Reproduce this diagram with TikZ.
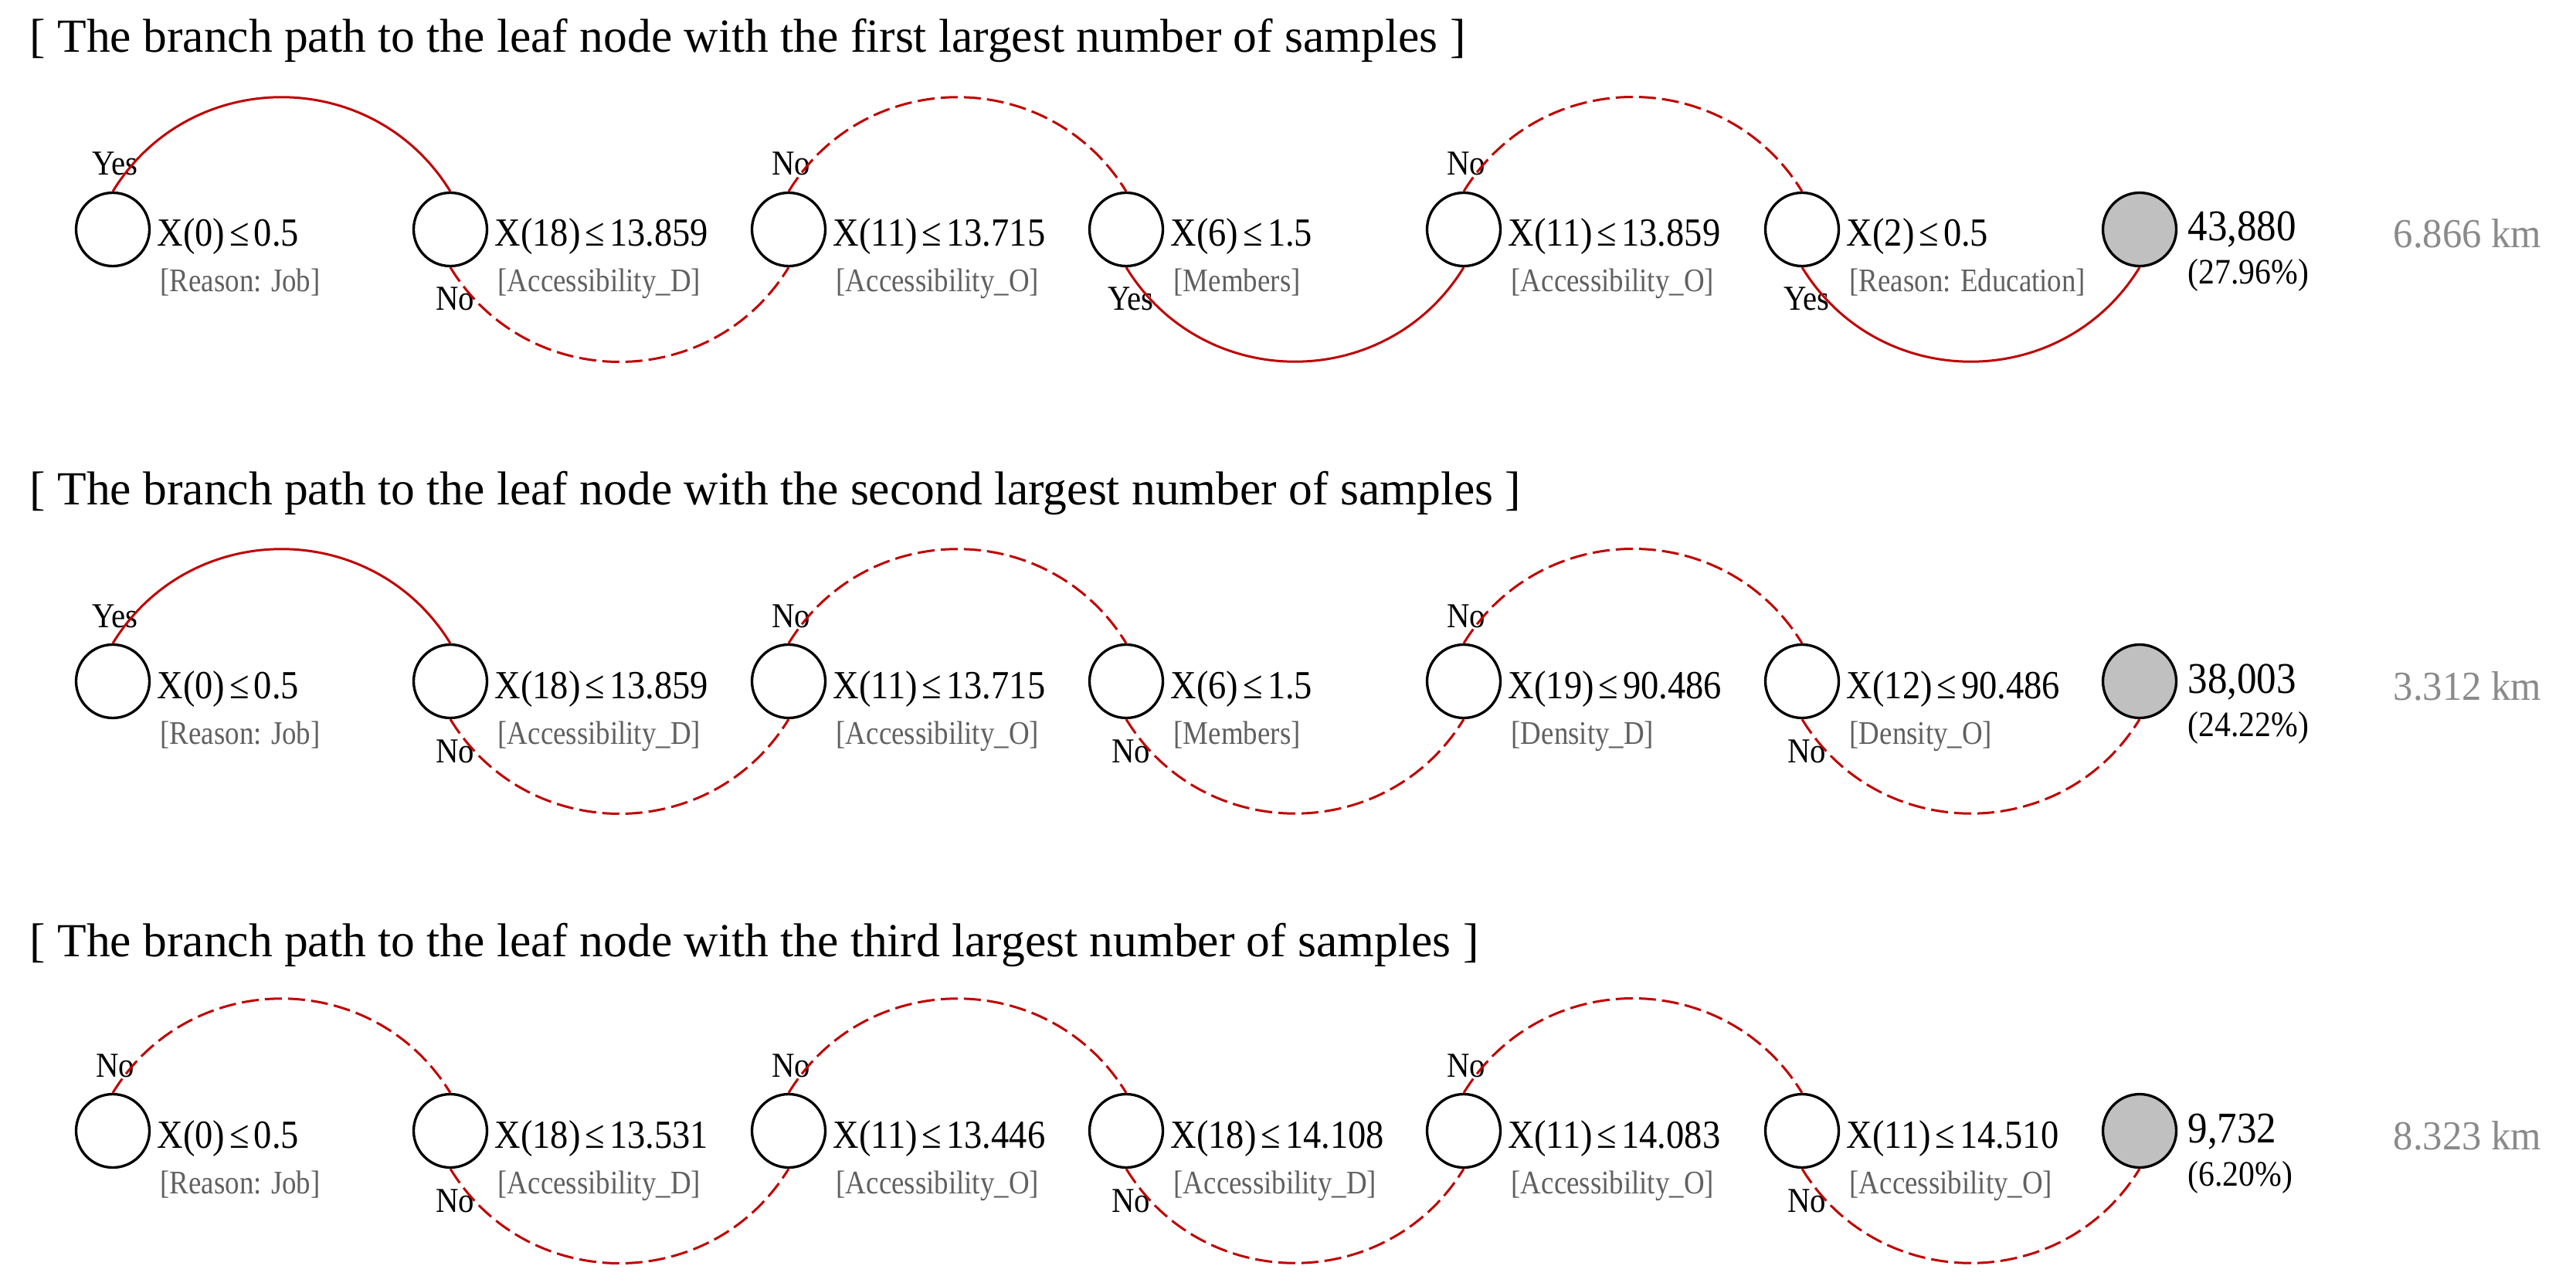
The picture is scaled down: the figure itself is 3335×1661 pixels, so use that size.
\documentclass[tikz,border=0pt]{standalone}
\usepackage{fontspec}
\setmainfont{Liberation Serif}
\newfontfamily\cond[FakeStretch=0.9]{Liberation Serif}
\newfontfamily\condg[FakeStretch=0.865]{Liberation Serif}
\newfontfamily\condk[FakeStretch=0.95]{Liberation Serif}
\definecolor{arcred}{RGB}{192,0,0}
\definecolor{labgray}{RGB}{96,96,96}
\definecolor{kmgray}{RGB}{138,138,138}
\definecolor{leafgray}{RGB}{192,192,192}
\newcommand\myle{\kern1.8pt≤\kern1.8pt}
\tikzset{
  dec/.style={circle,draw=black,line width=1pt,minimum size=28.5pt,inner sep=0pt},
  leaf/.style={dec,fill=leafgray},
  mainlab/.style={anchor=base west,inner sep=0pt,font=\cond\fontsize{15.5}{17}\selectfont},
  graylab/.style={anchor=base west,inner sep=0pt,text=labgray,font=\condg\fontsize{12.8}{14}\selectfont},
  cntlab/.style={anchor=base west,inner sep=0pt,font=\cond\fontsize{17}{19}\selectfont},
  pctlab/.style={anchor=base west,inner sep=0pt,font=\cond\fontsize{13.9}{15}\selectfont},
  kmlab/.style={anchor=base west,inner sep=0pt,text=kmgray,font=\condk\fontsize{16}{18}\selectfont},
  yn/.style={anchor=base,inner sep=0pt,font=\cond\fontsize{13.6}{15}\selectfont},
  title/.style={anchor=base west,inner sep=0pt,font=\fontsize{18.45}{20}\selectfont},
  yesarc/.style={draw=arcred,line width=0.9pt},
  noarc/.style={draw=arcred,line width=0.9pt,dash pattern=on 6.6pt off 2.4pt},
  arcup/.style={out=58.5,in=121.5,looseness=1.12},
  arcdown/.style={out=-58.5,in=-121.5,looseness=1.12},
}
\newcommand\dnode[5]{%
  \node[dec] (#1) at (#2,-#3) {};
  \node[mainlab] (#1m) at ([shift={(57,-22)}]#1.center) {#4};
  \node[graylab] (#1g) at ([shift={(61,-81)}]#1.center) {#5};
}
\newcommand\lnode[6]{%
  \node[leaf] (#1) at (#2,-#3) {};
  \node[cntlab] (#1c) at ([shift={(62,-15)}]#1.center) {#4};
  \node[pctlab] (#1p) at ([shift={(62,-71)}]#1.center) {#5};
  \node[kmlab] (#1k) at (3098,-#3-24) {#6};
}
\newcommand\ynup[3]{\node[yn] (#1) at ([shift={(3,70)}]#2.center) {#3};}
\newcommand\yndn[3]{\node[yn] (#1) at ([shift={(6,-105)}]#2.center) {#3};}
\begin{document}
\begin{tikzpicture}[x=0.3pt,y=0.3pt]
\useasboundingbox (0,0) rectangle (3335,-1661);
% ---------- Row 1 ----------
\node[title] (t1) at (38,-68) {[ The branch path to the leaf node with the first largest number of samples ]};
\dnode{a1}{146}{297}{X(0)\myle0.5}{[Reason: Job]}
\dnode{a2}{583}{297}{X(18)\myle13.859}{[Accessibility\_D]}
\dnode{a3}{1021}{297}{X(11)\myle13.715}{[Accessibility\_O]}
\dnode{a4}{1458}{297}{X(6)\myle1.5}{[Members]}
\dnode{a5}{1895}{297}{X(11)\myle13.859}{[Accessibility\_O]}
\dnode{a6}{2333}{297}{X(2)\myle0.5}{[Reason: Education]}
\lnode{a7}{2770}{297}{43,880}{(27.96\%)}{6.866 km}
\ynup{ya1}{a1}{Yes}
\yndn{ya2}{a2}{No}
\ynup{ya3}{a3}{No}
\yndn{ya4}{a4}{Yes}
\ynup{ya5}{a5}{No}
\yndn{ya6}{a6}{Yes}
\draw[yesarc] (a1.north) to[arcup] (a2.north);
\draw[noarc] (a2.south) to[arcdown] (a3.south);
\draw[noarc] (a3.north) to[arcup] (a4.north);
\draw[yesarc] (a4.south) to[arcdown] (a5.south);
\draw[noarc] (a5.north) to[arcup] (a6.north);
\draw[yesarc] (a6.south) to[arcdown] (a7.south);
% ---------- Row 2 ----------
\node[title] (t2) at (38,-653) {[ The branch path to the leaf node with the second largest number of samples ]};
\dnode{b1}{146}{882}{X(0)\myle0.5}{[Reason: Job]}
\dnode{b2}{583}{882}{X(18)\myle13.859}{[Accessibility\_D]}
\dnode{b3}{1021}{882}{X(11)\myle13.715}{[Accessibility\_O]}
\dnode{b4}{1458}{882}{X(6)\myle1.5}{[Members]}
\dnode{b5}{1895}{882}{X(19)\myle90.486}{[Density\_D]}
\dnode{b6}{2333}{882}{X(12)\myle90.486}{[Density\_O]}
\lnode{b7}{2770}{882}{38,003}{(24.22\%)}{3.312 km}
\ynup{yb1}{b1}{Yes}
\yndn{yb2}{b2}{No}
\ynup{yb3}{b3}{No}
\yndn{yb4}{b4}{No}
\ynup{yb5}{b5}{No}
\yndn{yb6}{b6}{No}
\draw[yesarc] (b1.north) to[arcup] (b2.north);
\draw[noarc] (b2.south) to[arcdown] (b3.south);
\draw[noarc] (b3.north) to[arcup] (b4.north);
\draw[noarc] (b4.south) to[arcdown] (b5.south);
\draw[noarc] (b5.north) to[arcup] (b6.north);
\draw[noarc] (b6.south) to[arcdown] (b7.south);
% ---------- Row 3 ----------
\node[title] (t3) at (38,-1238) {[ The branch path to the leaf node with the third largest number of samples ]};
\dnode{c1}{146}{1464}{X(0)\myle0.5}{[Reason: Job]}
\dnode{c2}{583}{1464}{X(18)\myle13.531}{[Accessibility\_D]}
\dnode{c3}{1021}{1464}{X(11)\myle13.446}{[Accessibility\_O]}
\dnode{c4}{1458}{1464}{X(18)\myle14.108}{[Accessibility\_D]}
\dnode{c5}{1895}{1464}{X(11)\myle14.083}{[Accessibility\_O]}
\dnode{c6}{2333}{1464}{X(11)\myle14.510}{[Accessibility\_O]}
\lnode{c7}{2770}{1464}{9,732}{(6.20\%)}{8.323 km}
\ynup{yc1}{c1}{No}
\yndn{yc2}{c2}{No}
\ynup{yc3}{c3}{No}
\yndn{yc4}{c4}{No}
\ynup{yc5}{c5}{No}
\yndn{yc6}{c6}{No}
\draw[noarc] (c1.north) to[arcup] (c2.north);
\draw[noarc] (c2.south) to[arcdown] (c3.south);
\draw[noarc] (c3.north) to[arcup] (c4.north);
\draw[noarc] (c4.south) to[arcdown] (c5.south);
\draw[noarc] (c5.north) to[arcup] (c6.north);
\draw[noarc] (c6.south) to[arcdown] (c7.south);
\end{tikzpicture}
\end{document}
